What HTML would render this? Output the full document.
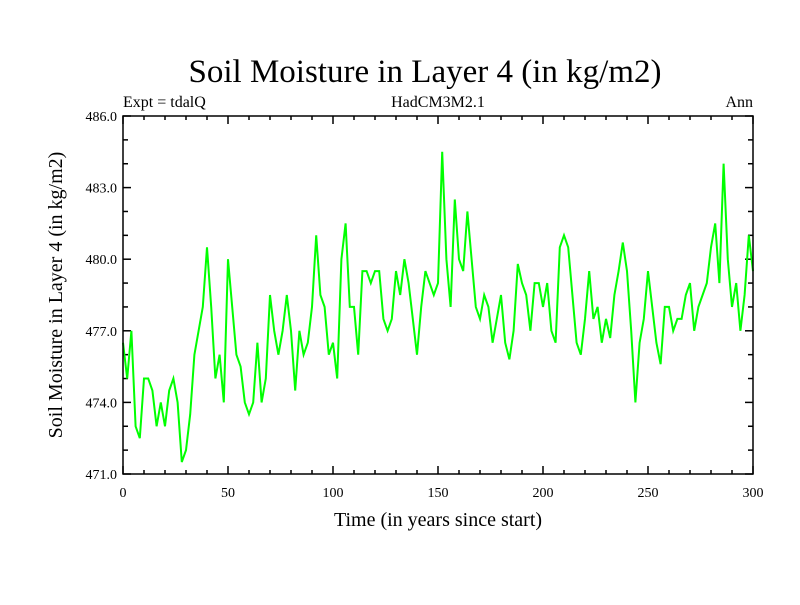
<!DOCTYPE html>
<html><head><meta charset="utf-8"><style>
body{margin:0;background:#fff}
svg text{font-family:"Liberation Serif",serif;fill:#000}
</style></head><body>
<svg id="chart" width="800" height="600" xmlns="http://www.w3.org/2000/svg">
<rect width="800" height="600" fill="#fff"/>
<text x="425" y="82" font-size="33" text-anchor="middle">Soil Moisture in Layer 4 (in kg/m2)</text>
<text x="123" y="107" font-size="16">Expt = tdalQ</text>
<text x="438" y="107" font-size="16" text-anchor="middle">HadCM3M2.1</text>
<text x="753" y="107" font-size="16" text-anchor="end">Ann</text>
<text x="438" y="526" font-size="20" text-anchor="middle">Time (in years since start)</text>
<text transform="translate(62,295) rotate(-90)" font-size="20" text-anchor="middle">Soil Moisture in Layer 4 (in kg/m2)</text>
<g id="axes"></g>
<path id="line" fill="none" stroke="#00ff00" stroke-width="2"/>
<rect x="123" y="116" width="630" height="358" fill="none" stroke="#000" stroke-width="1.5"/>
</svg>
<script>
const years = [0,2,4,6,8,10,12,14,16,18,20,22,24,26,28,30,32,34,36,38,40,42,44,46,48,50,52,54,56,58,60,62,64,66,68,70,72,74,76,78,80,82,84,86,88,90,92,94,96,98,100,102,104,106,108,110,112,114,116,118,120,122,124,126,128,130,132,134,136,138,140,142,144,146,148,150,152,154,156,158,160,162,164,166,168,170,172,174,176,178,180,182,184,186,188,190,192,194,196,198,200,202,204,206,208,210,212,214,216,218,220,222,224,226,228,230,232,234,236,238,240,242,244,246,248,250,252,254,256,258,260,262,264,266,268,270,272,274,276,278,280,282,284,286,288,290,292,294,296,298,300];
const values = [476.5,475,477,473,472.5,475,475,474.5,473,474,473,474.5,475,474,471.5,472,473.5,476,477,478,480.5,478,475,476,474,480,478,476,475.5,474,473.5,474,476.5,474,475,478.5,477,476,477,478.5,477,474.5,477,476,476.5,478,481,478.5,478,476,476.5,475,480,481.5,478,478,476,479.5,479.5,479,479.5,479.5,477.5,477,477.5,479.5,478.5,480,479,477.5,476,478,479.5,479,478.5,479,484.5,480,478,482.5,480,479.5,482,480,478,477.5,478.5,478,476.5,477.5,478.5,476.5,475.8,477,479.8,479,478.5,477,479,479,478,479,477,476.5,480.5,481,480.5,478.5,476.5,476,477.5,479.5,477.5,478,476.5,477.5,476.7,478.5,479.5,480.7,479.5,477,474,476.5,477.5,479.5,478,476.5,475.6,478,478,477,477.5,477.5,478.5,479,477,478,478.5,479,480.5,481.5,479,484,480,478,479,477,478.5,481,479.5];
const xTicks = [0,50,100,150,200,250,300];
const yTicks = [471,474,477,480,483,486];
const X0=123,X1=753,Y0=474,Y1=116,XMIN=0,XMAX=300,YMIN=471,YMAX=486;
const xs=v=>X0+(v-XMIN)/(XMAX-XMIN)*(X1-X0);
const ys=v=>Y0-(v-YMIN)/(YMAX-YMIN)*(Y0-Y1);
const NS="http://www.w3.org/2000/svg";
const ax=document.getElementById('axes');
function ln(x1,y1,x2,y2,name){const l=document.createElementNS(NS,'line');l.setAttribute('x1',x1);l.setAttribute('y1',y1);l.setAttribute('x2',x2);l.setAttribute('y2',y2);l.setAttribute('stroke','#000');l.setAttribute('stroke-width','1.5');


ax.appendChild(l);}
function tx(x,y,s,anchor,name){const t=document.createElementNS(NS,'text');t.setAttribute('x',x);t.setAttribute('y',y);t.setAttribute('font-size','14');t.setAttribute('text-anchor',anchor);t.textContent=s;


ax.appendChild(t);}
for(let v=XMIN;v<=XMAX;v+=10){const x=xs(v),L=(v%50===0)?8:4;ln(x,Y0,x,Y0-L,'x-tick');ln(x,Y1,x,Y1+L,'x-tick-top');}
for(let v=YMIN;v<=YMAX;v+=1){const y=ys(v),L=((v-YMIN)%3===0)?8:5;ln(X0,y,X0+L,y,'y-tick');ln(X1,y,X1-L,y,'y-tick-right');}
xTicks.forEach(v=>tx(xs(v),Y0+23,String(v),'middle','x-tick-label'));
yTicks.forEach(v=>tx(X0-6,ys(v)+5,v.toFixed(1),'end','y-tick-label'));
document.getElementById('line').setAttribute('d',years.map((y,i)=>(i?'L':'M')+xs(y).toFixed(1)+','+ys(values[i]).toFixed(1)).join(''));
</script>
</body></html>
